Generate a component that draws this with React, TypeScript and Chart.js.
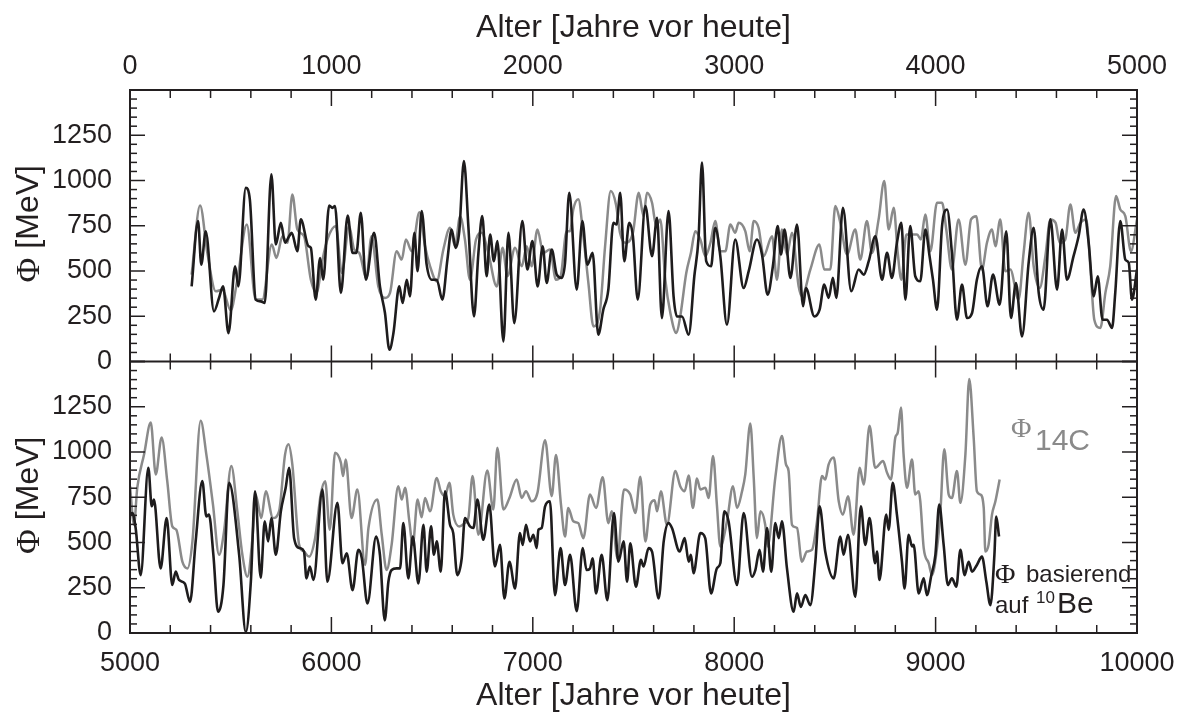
import React, { useEffect, useRef } from 'react';
import { Chart, registerables } from 'chart.js';

Chart.register(...registerables);

// ---------- data (year, Φ in MeV) ----------
// Upper panel: 0–5000 years before today
const top10Be: [number, number][] = [
  [306,415],[338,776],[354,535],[376,720],[417,277],[442,351],[462,415],[489,157],[522,526],[538,415],
  [575,960],[595,896],[624,342],[649,332],[669,323],[702,1034],[724,646],[749,766],[770,656],[790,692],
  [803,711],[831,609],[848,785],[886,637],[898,628],[922,342],[944,572],[959,452],[989,862],[1005,849],
  [1018,859],[1047,379],[1081,807],[1105,600],[1124,600],[1146,822],[1171,452],[1212,711],[1241,415],[1266,268],
  [1288,65],[1308,157],[1337,415],[1354,323],[1374,452],[1390,360],[1412,711],[1428,499],[1448,831],[1473,535],
  [1498,452],[1523,452],[1551,342],[1576,563],[1597,729],[1617,628],[1635,720],[1658,1108],[1680,748],[1708,249],
  [1730,600],[1749,803],[1771,471],[1788,702],[1807,554],[1824,665],[1854,111],[1879,711],[1908,212],[1948,776],
  [1973,508],[1998,665],[2024,415],[2049,637],[2069,434],[2094,619],[2119,480],[2143,462],[2160,545],[2181,932],
  [2218,397],[2246,776],[2271,535],[2297,600],[2325,148],[2350,286],[2375,397],[2400,766],[2416,757],[2434,932],
  [2454,554],[2479,766],[2497,692],[2521,342],[2559,859],[2592,582],[2617,794],[2641,240],[2674,831],[2699,360],
  [2716,249],[2741,249],[2774,148],[2802,471],[2823,683],[2840,1099],[2861,554],[2885,526],[2906,739],[2931,582],
  [2964,203],[3005,674],[3047,406],[3072,499],[3113,674],[3138,591],[3166,369],[3192,526],[3216,748],[3232,591],
  [3250,729],[3279,462],[3312,757],[3342,305],[3356,406],[3398,249],[3424,286],[3447,425],[3469,351],[3490,462],
  [3507,351],[3540,849],[3581,388],[3618,508],[3643,480],[3668,554],[3701,692],[3734,452],[3759,600],[3783,462],
  [3808,656],[3830,766],[3850,342],[3874,748],[3899,471],[3924,443],[3949,729],[3970,582],[3987,452],[4007,286],
  [4032,748],[4057,840],[4081,600],[4106,231],[4131,425],[4156,240],[4181,268],[4205,452],[4230,526],[4258,305],
  [4285,480],[4318,314],[4351,720],[4374,240],[4399,434],[4429,138],[4462,545],[4487,739],[4512,379],[4536,286],
  [4570,785],[4603,397],[4628,729],[4652,452],[4685,582],[4710,692],[4735,840],[4760,656],[4785,360],[4805,471],
  [4829,231],[4851,231],[4876,185],[4892,379],[4917,776],[4942,563],[4959,545],[4975,342],[5000,508],
];

const top14C: [number, number][] = [
  [306,480],[348,862],[384,600],[426,388],[459,397],[500,283],[533,452],[580,757],[624,342],[657,342],
  [704,646],[727,572],[757,692],[782,656],[806,923],[831,729],[864,692],[898,452],[926,379],[956,563],
  [980,674],[1022,748],[1052,489],[1088,748],[1113,619],[1138,600],[1174,462],[1199,692],[1233,415],[1266,351],
  [1291,379],[1324,609],[1349,563],[1370,674],[1399,609],[1437,825],[1465,637],[1490,526],[1523,443],[1556,619],
  [1589,739],[1614,637],[1639,803],[1663,674],[1688,452],[1718,674],[1746,711],[1779,600],[1821,415],[1850,628],
  [1874,471],[1912,628],[1945,526],[1970,637],[1994,526],[2023,729],[2052,600],[2085,619],[2115,452],[2138,471],
  [2168,720],[2185,720],[2201,840],[2226,896],[2251,692],[2276,434],[2301,194],[2334,286],[2359,637],[2387,942],
  [2413,868],[2433,711],[2458,656],[2497,711],[2526,932],[2550,803],[2567,932],[2592,877],[2613,748],[2633,785],
  [2658,452],[2683,268],[2713,157],[2732,249],[2762,489],[2785,600],[2807,720],[2832,674],[2857,582],[2882,656],
  [2906,776],[2931,609],[2956,609],[2981,757],[3005,711],[3022,766],[3055,720],[3077,609],[3097,776],[3121,739],
  [3146,582],[3188,692],[3212,452],[3237,729],[3262,591],[3287,711],[3320,415],[3336,360],[3378,508],[3423,646],
  [3447,508],[3477,508],[3502,859],[3527,766],[3560,591],[3601,729],[3626,563],[3659,776],[3684,600],[3717,785],
  [3745,997],[3767,729],[3792,849],[3812,600],[3830,452],[3855,702],[3883,702],[3908,702],[3927,674],[3949,812],
  [3974,609],[4007,877],[4032,877],[4053,729],[4081,508],[4114,785],[4148,535],[4176,785],[4202,803],[4230,508],
  [4255,656],[4280,729],[4297,637],[4321,785],[4346,499],[4371,508],[4412,342],[4437,600],[4462,822],[4487,526],
  [4517,406],[4545,582],[4570,785],[4596,766],[4616,656],[4644,674],[4669,868],[4694,711],[4719,766],[4748,785],
  [4768,526],[4788,231],[4818,185],[4843,379],[4867,526],[4896,914],[4917,840],[4942,803],[4970,609],[5000,785],
];

// Lower panel: 5000–10000 years before today
const bottom10Be: [number, number][] = [
  [5000,654],[5012,663],[5028,580],[5053,320],[5091,913],[5108,700],[5119,737],[5152,357],[5182,635],[5210,265],
  [5227,339],[5243,293],[5272,274],[5298,172],[5326,506],[5359,839],[5379,644],[5392,654],[5414,432],[5437,117],
  [5464,265],[5492,830],[5542,432],[5575,5],[5600,283],[5621,783],[5649,306],[5669,617],[5686,506],[5702,635],
  [5724,432],[5749,672],[5773,802],[5790,913],[5815,524],[5843,469],[5864,450],[5876,302],[5893,367],[5911,293],
  [5956,793],[5980,283],[6030,719],[6055,385],[6076,441],[6105,237],[6134,459],[6151,413],[6179,163],[6222,533],
  [6241,432],[6265,70],[6283,283],[6299,348],[6324,357],[6341,357],[6357,607],[6382,302],[6404,533],[6432,274],
  [6457,598],[6473,339],[6495,589],[6509,432],[6523,506],[6543,339],[6564,783],[6589,598],[6605,552],[6625,320],
  [6647,413],[6663,635],[6688,589],[6705,580],[6725,737],[6754,515],[6784,709],[6812,367],[6837,487],[6859,191],
  [6884,394],[6912,246],[6936,552],[6950,487],[6966,598],[6986,506],[7003,543],[7019,469],[7028,570],[7044,580],
  [7061,700],[7085,728],[7110,209],[7138,469],[7160,265],[7185,432],[7218,120],[7248,469],[7267,348],[7284,357],
  [7297,413],[7314,219],[7342,432],[7370,181],[7403,663],[7425,394],[7451,506],[7468,283],[7484,496],[7512,256],
  [7537,404],[7550,367],[7575,469],[7592,450],[7625,191],[7650,506],[7674,607],[7691,580],[7729,450],[7754,524],
  [7774,394],[7785,432],[7798,330],[7832,552],[7856,524],[7885,219],[7914,357],[7931,385],[7951,672],[7972,617],
  [8014,265],[8047,663],[8088,311],[8105,348],[8126,459],[8143,339],[8163,580],[8184,339],[8204,607],[8221,524],
  [8237,617],[8262,357],[8295,117],[8312,219],[8331,144],[8353,209],[8378,154],[8403,394],[8424,700],[8452,450],
  [8494,302],[8527,533],[8543,432],[8565,543],[8601,200],[8629,700],[8651,487],[8672,635],[8700,385],[8709,450],
  [8721,293],[8755,654],[8767,570],[8787,830],[8808,654],[8833,394],[8846,246],[8866,543],[8883,478],[8891,487],
  [8916,219],[8941,302],[8957,209],[8979,320],[8999,432],[9018,709],[9040,487],[9061,265],[9081,302],[9103,256],
  [9123,459],[9144,320],[9164,394],[9181,339],[9205,376],[9230,422],[9252,283],[9272,154],[9292,432],[9301,644],
  [9315,533],
];

const bottom14C: [number, number][] = [
  [5000,811],[5020,598],[5036,802],[5070,987],[5103,1163],[5128,876],[5157,1080],[5185,839],[5210,589],[5230,570],
  [5260,394],[5285,357],[5310,506],[5351,1172],[5379,987],[5412,709],[5442,432],[5467,561],[5503,922],[5533,672],
  [5558,432],[5583,311],[5608,524],[5624,765],[5652,635],[5674,783],[5710,635],[5740,672],[5770,987],[5787,1043],
  [5806,932],[5840,487],[5864,450],[5889,422],[5919,524],[5947,765],[5969,839],[5992,570],[6018,996],[6047,941],
  [6058,867],[6071,959],[6100,635],[6129,793],[6167,376],[6184,580],[6228,737],[6250,543],[6274,348],[6299,487],
  [6332,811],[6349,737],[6366,802],[6387,617],[6404,487],[6428,737],[6448,639],[6465,746],[6490,672],[6523,857],
  [6543,783],[6564,756],[6586,830],[6605,654],[6635,589],[6663,607],[6680,635],[6701,867],[6730,543],[6774,898],
  [6804,682],[6824,1024],[6854,682],[6884,746],[6920,848],[6945,746],[6966,783],[6994,728],[7023,774],[7061,1065],
  [7094,756],[7115,983],[7140,709],[7160,533],[7176,691],[7201,617],[7226,607],[7251,524],[7284,765],[7314,691],
  [7347,861],[7375,607],[7392,672],[7420,413],[7453,793],[7484,765],[7509,663],[7534,863],[7559,506],[7583,709],
  [7605,733],[7617,672],[7636,783],[7666,598],[7708,895],[7732,811],[7754,783],[7774,870],[7795,691],[7815,854],
  [7832,793],[7857,802],[7873,746],[7895,978],[7914,709],[7931,478],[7964,617],[7994,811],[8014,691],[8039,783],
  [8055,876],[8080,1158],[8097,857],[8113,524],[8130,672],[8154,598],[8166,478],[8204,857],[8237,1089],[8257,932],
  [8270,895],[8287,598],[8312,580],[8336,394],[8361,450],[8386,459],[8411,617],[8436,867],[8452,848],[8469,932],
  [8494,969],[8519,728],[8540,654],[8565,756],[8593,543],[8623,913],[8643,820],[8672,1145],[8700,913],[8739,950],
  [8759,885],[8778,848],[8800,1080],[8812,1107],[8828,1246],[8841,987],[8858,802],[8883,959],[8899,765],[8916,783],
  [8924,728],[8941,469],[8966,385],[8982,320],[9007,469],[9023,654],[9043,1015],[9065,765],[9081,746],[9106,895],
  [9123,719],[9148,987],[9167,1404],[9189,1080],[9205,783],[9222,765],[9239,691],[9247,450],[9263,487],[9280,654],
  [9297,728],[9318,848],
];

// axis ranges / tick steps
const topYears = [0, 5000];
const bottomYears = [5000, 10000];
const phiRange = [0, 1500];
const yearLabelStep = 1000;
const yearMinorStep = 200;
const phiLabelStep = 250;
const phiMinorStep = 50;

const xTitle = 'Alter [Jahre vor heute]';
const yTitleUnit = ' [MeV]';
const PHI = 'Φ';

// ---------- styles ----------
const INK = '#231f20';
const GRAY = '#8a8a8a';
const SANS = '"Liberation Sans", Arial, Helvetica, sans-serif';
const SERIF = '"Liberation Serif", "Times New Roman", serif';

const toXY = (arr: [number, number][]) => arr.map(([x, y]) => ({ x, y }));

const framePlugin = {
  id: 'frame',
  afterDatasetsDraw(chart: any) {
    const { ctx, chartArea: a, scales } = chart;
    const xT = scales.xTop, xB = scales.xBot, yT = scales.yTop, yB = scales.yBot;
    const mid = yT.bottom;
    ctx.save();
    ctx.strokeStyle = INK;
    ctx.lineCap = 'butt';
    const seg = (x1: number, y1: number, x2: number, y2: number) => {
      ctx.beginPath(); ctx.moveTo(x1, y1); ctx.lineTo(x2, y2); ctx.stroke();
    };
    ctx.lineWidth = 1.5;
    const xTicks = (s: any, yEdge: number, dir: number) => {
      for (let v = s.min; v <= s.max + 1e-6; v += yearMinorStep) {
        const px = s.getPixelForValue(v);
        const len = Math.abs(v % yearLabelStep) < 1e-6 ? 16 : 8;
        seg(px, yEdge, px, yEdge + dir * len);
      }
    };
    xTicks(xT, a.top, 1); xTicks(xT, mid, -1);
    xTicks(xB, mid, 1); xTicks(xB, a.bottom, -1);
    const yTicks = (s: any) => {
      for (let v = s.min; v <= s.max + 1e-6; v += phiMinorStep) {
        const py = s.getPixelForValue(v);
        const len = Math.abs(v % phiLabelStep) < 1e-6 ? 15 : 7;
        seg(a.left, py, a.left + len, py);
        seg(a.right, py, a.right - len, py);
      }
    };
    yTicks(yT); yTicks(yB);
    ctx.lineWidth = 2;
    ctx.strokeRect(a.left, a.top, a.right - a.left, a.bottom - a.top);
    seg(a.left, mid, a.right, mid);
    ctx.restore();
  },
  afterDraw(chart: any) {
    const { ctx, scales } = chart;
    ctx.save();
    // y-axis titles  "Φ [MeV]"
    for (const s of [scales.yTop, scales.yBot]) {
      const cy = (s.top + s.bottom) / 2 - 2;
      ctx.save();
      ctx.translate(29, cy);
      ctx.rotate(-Math.PI / 2);
      ctx.fillStyle = INK;
      ctx.textBaseline = 'middle';
      ctx.textAlign = 'left';
      ctx.font = `34px ${SERIF}`;
      const w1 = ctx.measureText(PHI).width;
      ctx.font = `32px ${SANS}`;
      const w2 = ctx.measureText(yTitleUnit).width;
      const x = -(w1 + w2) / 2;
      ctx.font = `34px ${SERIF}`;
      ctx.fillText(PHI, x, 1);
      ctx.font = `32px ${SANS}`;
      ctx.fillText(yTitleUnit, x + w1, 0);
      ctx.restore();
    }
    // series labels
    ctx.textBaseline = 'alphabetic';
    ctx.textAlign = 'left';
    ctx.fillStyle = GRAY;
    ctx.font = `28px ${SERIF}`;
    ctx.fillText(PHI, 1011, 437);
    ctx.font = `30px ${SANS}`;
    ctx.fillText('14C', 1035, 450);

    ctx.fillStyle = INK;
    ctx.font = `28px ${SERIF}`;
    ctx.fillText(PHI, 995, 583);
    ctx.font = `24px ${SANS}`;
    ctx.fillText('basierend', 1026, 582);
    ctx.fillText('auf', 995, 613);
    ctx.font = `17px ${SANS}`;
    ctx.fillText('10', 1036, 603);
    ctx.font = `30px ${SANS}`;
    ctx.fillText('Be', 1057, 613);
    ctx.restore();
  },
};

const tickFont = { family: SANS, size: 27 };
const titleFont = { family: SANS, size: 32 };

export default function App() {
  const ref = useRef<HTMLCanvasElement | null>(null);

  useEffect(() => {
    if (!ref.current) return;
    const line = (label: string, data: [number, number][], color: string, w: number, xid: string, yid: string) => ({
      label,
      data: toXY(data),
      xAxisID: xid,
      yAxisID: yid,
      borderColor: color,
      borderWidth: w,
      pointRadius: 0,
      fill: false,
      cubicInterpolationMode: 'monotone' as const,
    });
    const chart = new Chart(ref.current, {
      type: 'line',
      data: {
        datasets: [
          line('Φ 10Be (0–5000)', top10Be, '#1e1c1d', 2.6, 'xTop', 'yTop'),
          line('Φ 14C (0–5000)', top14C, GRAY, 2.5, 'xTop', 'yTop'),
          line('Φ 10Be (5000–10000)', bottom10Be, '#1e1c1d', 2.6, 'xBot', 'yBot'),
          line('Φ 14C (5000–10000)', bottom14C, GRAY, 2.5, 'xBot', 'yBot'),
        ],
      },
      options: {
        animation: false,
        responsive: true,
        maintainAspectRatio: false,
        devicePixelRatio: 1,
        parsing: false as any,
        normalized: true,
        layout: { padding: { left: 0, right: 49, top: 0, bottom: 0 } },
        plugins: { legend: { display: false }, tooltip: { enabled: false } },
        scales: {
          xTop: {
            type: 'linear', position: 'top', min: topYears[0], max: topYears[1],
            grid: { display: false, drawTicks: false }, border: { display: false },
            ticks: { stepSize: yearLabelStep, autoSkip: false, maxRotation: 0, padding: 7, color: INK, font: tickFont, callback: (v: any) => String(v) },
            title: { display: true, text: xTitle, color: INK, font: titleFont, padding: { top: 9, bottom: 0 } },
            afterFit: (s: any) => { s.height = 90; s.paddingLeft = 0; s.paddingRight = 0; },
          },
          xBot: {
            type: 'linear', position: 'bottom', min: bottomYears[0], max: bottomYears[1],
            grid: { display: false, drawTicks: false }, border: { display: false },
            ticks: { stepSize: yearLabelStep, autoSkip: false, maxRotation: 0, padding: 14, color: INK, font: tickFont, callback: (v: any) => String(v) },
            title: { display: true, text: xTitle, color: INK, font: titleFont, padding: { top: 0, bottom: 5 } },
            afterFit: (s: any) => { s.height = 87; s.paddingLeft = 0; s.paddingRight = 0; },
          },
          yTop: {
            type: 'linear', position: 'left', stack: 'panels', stackWeight: 1, weight: 1,
            min: phiRange[0], max: phiRange[1],
            grid: { display: false, drawTicks: false }, border: { display: false },
            ticks: { stepSize: phiLabelStep, autoSkip: false, padding: 18, color: INK, font: tickFont, callback: (v: any) => (v === phiRange[1] ? '' : String(v)) },
            afterFit: (s: any) => { s.width = 130; s.paddingTop = 0; s.paddingBottom = 0; },
          },
          yBot: {
            type: 'linear', position: 'left', stack: 'panels', stackWeight: 1, weight: 0,
            min: phiRange[0], max: phiRange[1],
            grid: { display: false, drawTicks: false }, border: { display: false },
            ticks: { stepSize: phiLabelStep, autoSkip: false, padding: 18, color: INK, font: tickFont, callback: (v: any) => (v === phiRange[1] ? '' : String(v)) },
            afterFit: (s: any) => { s.width = 130; s.paddingTop = 0; s.paddingBottom = 0; },
          },
        } as any,
      },
      plugins: [framePlugin],
    });
    return () => chart.destroy();
  }, []);

  return (
    <div style={{ position: 'fixed', left: 0, top: 0, width: 1186, height: 720, background: '#fff' }}>
      <canvas ref={ref} />
    </div>
  );
}
